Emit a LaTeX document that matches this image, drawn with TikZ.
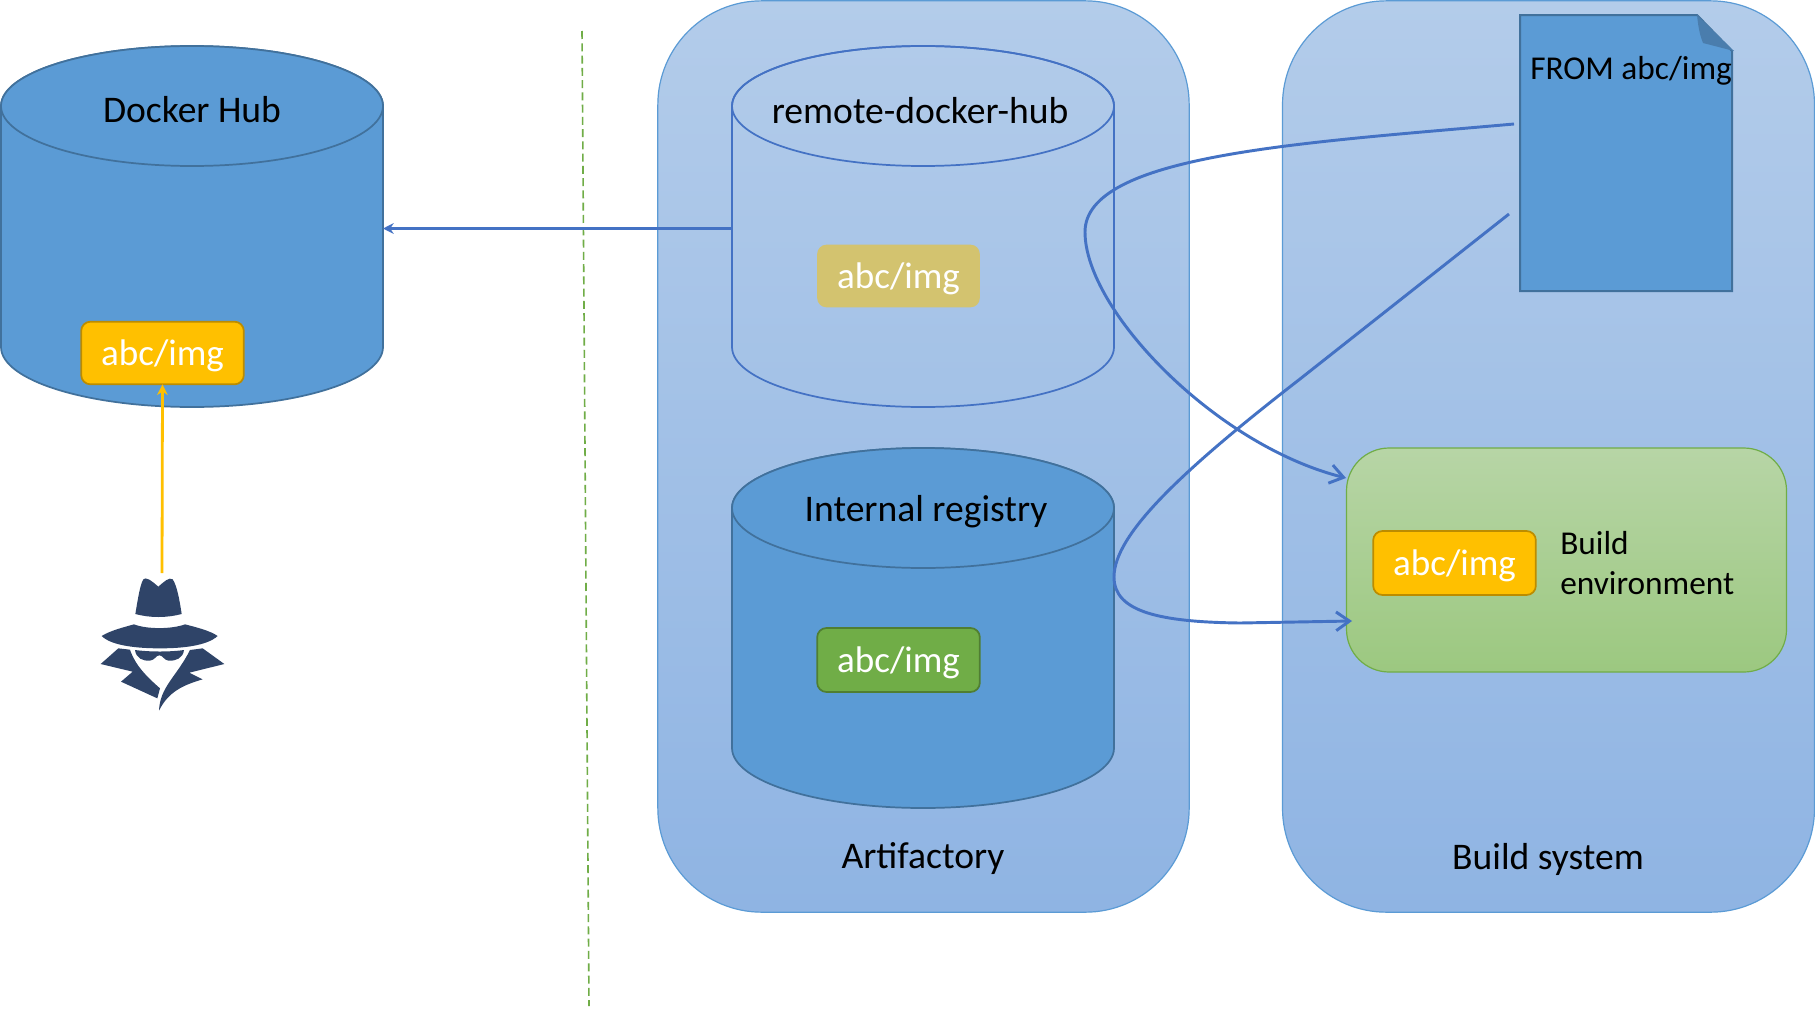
\documentclass[tikz,border=0pt]{standalone}
\usepackage{fontspec}
\setmainfont{Carlito}
\usetikzlibrary{arrows.meta}
\definecolor{cylblue}{HTML}{5B9BD5}
\definecolor{cyledge}{HTML}{41719C}
\definecolor{linkblue}{HTML}{4472C4}
\definecolor{tagyellow}{HTML}{FFC000}
\definecolor{tagyedge}{HTML}{BC8C00}
\definecolor{tagkhaki}{HTML}{D3C36F}
\definecolor{taggreen}{HTML}{70AD47}
\definecolor{taggedge}{HTML}{507E32}
\definecolor{spy}{HTML}{2F4468}
\definecolor{foldblue}{HTML}{4A7DAD}
\definecolor{paneltop}{RGB}{179,204,234}
\definecolor{panelbot}{RGB}{143,180,227}
\definecolor{envtop}{RGB}{183,213,166}
\definecolor{envbot}{RGB}{156,200,128}
\tikzset{
  panel/.style={draw=cylblue,line width=0.9pt,rounded corners=78pt,inner sep=0,outer sep=0,
     top color=paneltop,bottom color=panelbot},
  labeltext/.style={font=\fontsize{28.2pt}{33pt}\selectfont,text=black},
  tagbox/.style={inner sep=0,outer sep=0,rounded corners=7pt,line width=1.3pt,minimum width=122pt,
     font=\fontsize{27.8pt}{33pt}\selectfont,text=white,text height=22pt,text depth=3.3pt},
  link/.style={draw=linkblue,line width=2.2pt},
  barb/.style={-{Straight Barb[length=10pt,width=14pt,line width=2.2pt]}},
  tiptri/.style={-{Stealth[length=8pt,width=8pt]}},
}
% name, left x, top centre y, bottom centre y, fill style, offset of the name node
\newcommand{\mycyl}[6]{%
  \draw[#5] (#2,#3) -- (#2,#4) arc[start angle=180,end angle=0,x radius=191,y radius=60]
    -- (#2+382,#3) arc[start angle=0,end angle=-180,x radius=191,y radius=60] -- cycle;
  \draw[#5] (#2+191,#3) ellipse[x radius=191,y radius=60];
  \node[inner sep=0,outer sep=0,minimum width=286.5pt,minimum height=270.5pt] (#1) at (#2+191,{(#3+#4)/2+#6}) {};
}
\begin{document}
\begin{tikzpicture}[x=0.75pt,y=-0.75pt]
\useasboundingbox (0,0) rectangle (1815,1010);
\fill[white] (0,0) rectangle (1815,1010);

% panels
\node[panel,minimum width=398.5pt,minimum height=683.5pt] (artifactory) at (923.5,456.5) {};
\node[panel,minimum width=399pt,minimum height=683.5pt] (buildsys) at (1548.5,456.5) {};

% separator
\coordinate (septop) at (582,31);
\coordinate (sepbot) at (589,1006);
\draw[taggreen,line width=1.2pt,dash pattern=on 6pt off 3.2pt] (septop) -- (sepbot);

% cylinders
\mycyl{dockerhub}{1}{106}{347}{fill=cylblue,draw=cyledge,line width=1.3pt}{2}
\mycyl{remote}{732}{106}{347}{draw=linkblue,line width=1.3pt}{2}
\mycyl{internal}{732}{508}{748}{fill=cylblue,draw=cyledge,line width=1.3pt}{0}

% green box
\node[draw=taggreen,line width=0.9pt,rounded corners=32pt,inner sep=0,outer sep=0,minimum width=330pt,minimum height=168pt,
  top color=envtop,bottom color=envbot] (buildenv) at (1566.5,560) {};

% tags
\node[tagbox,draw=tagyedge,fill=tagyellow,minimum height=47pt] (tagdocker) at (162.5,353) {abc/img};
\node[tagbox,draw=none,fill=tagkhaki,minimum height=47pt] (tagremote) at (898.5,276) {abc/img};
\node[tagbox,draw=taggedge,fill=taggreen,minimum height=48pt] (taginternal) at (898.5,660) {abc/img};
\node[tagbox,draw=tagyedge,fill=tagyellow,minimum height=48pt] (tagbuild) at (1454.5,563) {abc/img};

% document
\draw[fill=cylblue,draw=cyledge,line width=1.5pt] (1520,15) -- (1697,15) -- (1732,51) -- (1732,291) -- (1520,291) -- cycle;
\fill[foldblue] (1697,15) -- (1734,51) -- (1703,43) .. controls (1699,33) and (1698,24) .. (1697,15) -- cycle;
\node[labeltext,anchor=west,inner sep=0,font=\fontsize{25pt}{30pt}\selectfont] (fromtext) at (1530,71) {FROM abc/img};
\node[inner sep=0,outer sep=0,minimum width=160pt,minimum height=207pt] (dockerfile) at (1626,153) {};

% texts
\node[labeltext,inner sep=0] (t1) at (192,110) {Docker Hub};
\node[labeltext,inner sep=0] (t2) at (920,111) {remote-docker-hub};
\node[labeltext,inner sep=0] (t3) at (926,512) {Internal registry};
\node[labeltext,inner sep=0] (t4) at (923,859) {Artifactory};
\node[labeltext,inner sep=0] (t5) at (1548,859) {Build system};
\node[labeltext,anchor=west,inner sep=0,font=\fontsize{25pt}{30pt}\selectfont] (t6) at (1560,543) {Build};
\node[labeltext,anchor=west,inner sep=0,font=\fontsize{25pt}{30pt}\selectfont] (t7) at (1560,583) {environment};

% spy icon
\coordinate (spyhead) at (162,573);
\begin{scope}[shift={(60,540)},x=0.25pt,y=-0.25pt]
\fill[spy] (226,222) .. controls (234,175) and (240,135) .. (250,118) .. controls (258,110) and (272,120) .. (295,140)
  .. controls (312,125) and (328,110) .. (338,118) .. controls (350,135) and (358,175) .. (365,222)
  .. controls (320,234) and (270,234) .. (226,222) -- cycle;
\fill[spy] (125,288) .. controls (150,272) and (190,262) .. (222,253) .. controls (260,268) and (335,268) .. (375,253)
  .. controls (410,262) and (450,272) .. (473,288) .. controls (440,318) and (365,325) .. (300,325)
  .. controls (235,325) and (155,318) .. (125,288) -- cycle;
\fill[spy] (225,330) .. controls (270,336) and (330,336) .. (372,330)
  .. controls (370,355) and (345,364) .. (325,362) .. controls (312,360) and (308,346) .. (298,346)
  .. controls (288,346) and (285,360) .. (270,362) .. controls (250,364) and (228,355) .. (225,330) -- cycle;
\fill[spy] (122,372) -- (175,325) -- (210,329) .. controls (225,375) and (260,410) .. (300,445) -- (292,475) -- (183,425) -- (218,395) -- cycle;
\fill[spy] (297,512) .. controls (300,440) and (350,410) .. (390,330) -- (428,325) -- (493,372) -- (388,398) -- (428,418)
  .. controls (370,435) and (325,455) .. (297,512) -- cycle;
\end{scope}

% connectors
\draw[linkblue,line width=2.2pt,tiptri] (remote.west) -- (dockerhub.east);
\draw[tagyellow,line width=2.1pt,tiptri] (spyhead) -- (tagdocker.south);

\coordinate (fileA) at (1514,124);
\coordinate (fileB) at (1509,214);
\coordinate (envA) at (1346,478);
\coordinate (envB) at (1352,621);
\draw[link,barb] (fileA) .. controls (1300,143) and (1085,155) .. (1085,232)
   .. controls (1085,310) and (1215,445) .. (envA);
\draw[link,barb] (fileB) -- (1300,379) .. controls (1180,472) and (1114,535) .. (1114,577)
   .. controls (1114,612) and (1160,622) .. (1240,623) -- (envB);
\end{tikzpicture}
\end{document}
